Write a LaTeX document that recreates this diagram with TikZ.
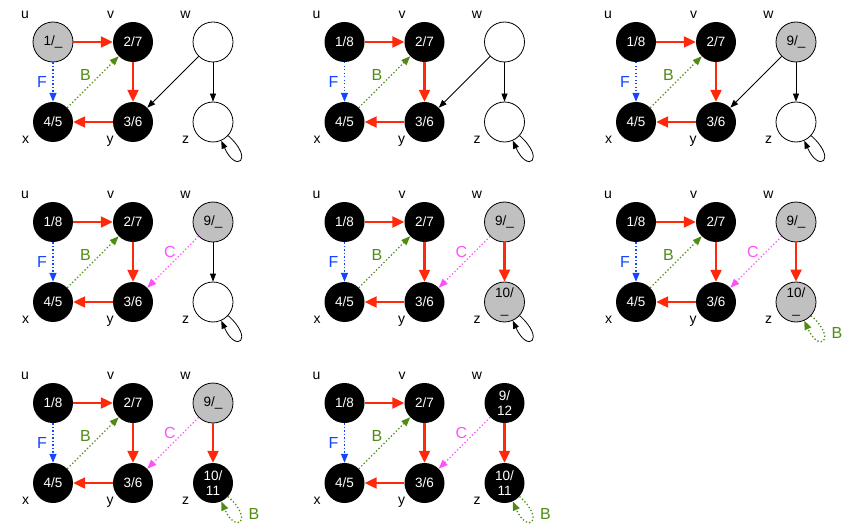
\documentclass[tikz,border=0pt]{standalone}
\usepackage{fontspec}
\setmainfont{Liberation Sans}
\usetikzlibrary{arrows.meta}
\definecolor{tred}{RGB}{255,40,10}
\definecolor{tblue}{RGB}{20,70,255}
\definecolor{tgreen}{RGB}{80,140,20}
\definecolor{tpink}{RGB}{255,80,255}
\definecolor{tgray}{RGB}{192,192,192}
\tikzset{
  vert/.style={circle, minimum size=40pt, inner sep=0pt, font=\fontsize{13.5}{15.5}\selectfont, align=center},
  blacknode/.style={vert, fill=black, text=white},
  graynode/.style={vert, fill=tgray, draw=black, line width=0.8pt},
  whitenode/.style={vert, fill=white, draw=black, line width=0.8pt},
  lab/.style={font=\fontsize{14}{16}\selectfont, inner sep=0pt, anchor=base},
  elab/.style={font=\fontsize{16}{18}\selectfont, inner sep=0pt},
  tree/.style={draw=tred, line width=2.2pt, -{Triangle[length=12pt,width=11pt]}},
  plain/.style={draw=black, line width=0.8pt, -{Triangle[length=8pt,width=6pt]}},
  fwd/.style={draw=tblue, line width=1.3pt, dash pattern=on 1.3pt off 2.2pt, -{Triangle[length=9pt,width=7pt]}},
  back/.style={draw=tgreen, line width=1.3pt, dash pattern=on 1.3pt off 2.2pt, -{Triangle[length=9pt,width=7pt]}},
  cross/.style={draw=tpink, line width=1.3pt, dash pattern=on 1.3pt off 2.2pt, -{Triangle[length=9pt,width=7pt]}},
}
\newcommand\dfspanel[3]{%
\begin{scope}[shift={(#2,#3)}]
  \ifnum#1=1
    \node[graynode] (u#1) at (0,0) {1/\_};
  \else
    \node[blacknode] (u#1) at (0,0) {1/8};
  \fi
  \node[blacknode] (v#1) at (80,0) {2/7};
  \ifnum#1<3
    \node[whitenode] (w#1) at (160,0) {};
  \else\ifnum#1<8
    \node[graynode] (w#1) at (160,0) {9/\_};
  \else
    \node[blacknode] (w#1) at (160,0) {9/\\12};
  \fi\fi
  \node[blacknode] (x#1) at (0,80) {4/5};
  \node[blacknode] (y#1) at (80,80) {3/6};
  \ifnum#1<5
    \node[whitenode] (z#1) at (160,80) {};
  \else\ifnum#1<7
    \node[graynode] (z#1) at (160,80) {10/\\\_};
  \else
    \node[blacknode] (z#1) at (160,80) {10/\\11};
  \fi\fi
  \node[lab] (lu#1) at (-28,-23.5) {u};
  \node[lab] (lv#1) at (57.5,-23.5) {v};
  \node[lab] (lw#1) at (132.5,-23.5) {w};
  \node[lab] (lx#1) at (-27.5,101.5) {x};
  \node[lab] (ly#1) at (57,101.5) {y};
  \node[lab] (lz#1) at (132.5,101.5) {z};
  \draw[tree] (u#1) -- (v#1);
  \draw[tree] (v#1) -- (y#1);
  \draw[tree] (y#1) -- (x#1);
  \draw[fwd] (u#1) -- (x#1);
  \node[elab, text=tblue] (F#1) at (-11,40) {F};
  \draw[back] (x#1) -- (v#1);
  \node[elab, text=tgreen] (B#1) at (32.5,33) {B};
  \ifnum#1<4
    \draw[plain] (w#1) -- (y#1);
  \else
    \draw[cross] (w#1) -- (y#1);
    \node[elab, text=tpink] (C#1) at (117,30) {C};
  \fi
  \ifnum#1<5
    \draw[plain] (w#1) -- (z#1);
  \else
    \draw[tree] (w#1) -- (z#1);
  \fi
  \ifnum#1<6
    \draw[plain] (z#1.-42) .. controls +(-42:36pt) and +(-66:36pt) .. (z#1.-66);
  \else
    \draw[back] (z#1.-42) .. controls +(-42:36pt) and +(-66:36pt) .. (z#1.-66);
    \node[elab, text=tgreen] (Bz#1) at (201,111) {B};
  \fi
\end{scope}}
\begin{document}
\begin{tikzpicture}[x=1pt,y=-1pt]
  \useasboundingbox (0,0) rectangle (850,529);
  \dfspanel{1}{53}{42}
  \dfspanel{2}{344.5}{42}
  \dfspanel{3}{636}{42}
  \dfspanel{4}{53}{222}
  \dfspanel{5}{344.5}{222}
  \dfspanel{6}{636}{222}
  \dfspanel{7}{53}{403}
  \dfspanel{8}{344.5}{403}
\end{tikzpicture}
\end{document}
